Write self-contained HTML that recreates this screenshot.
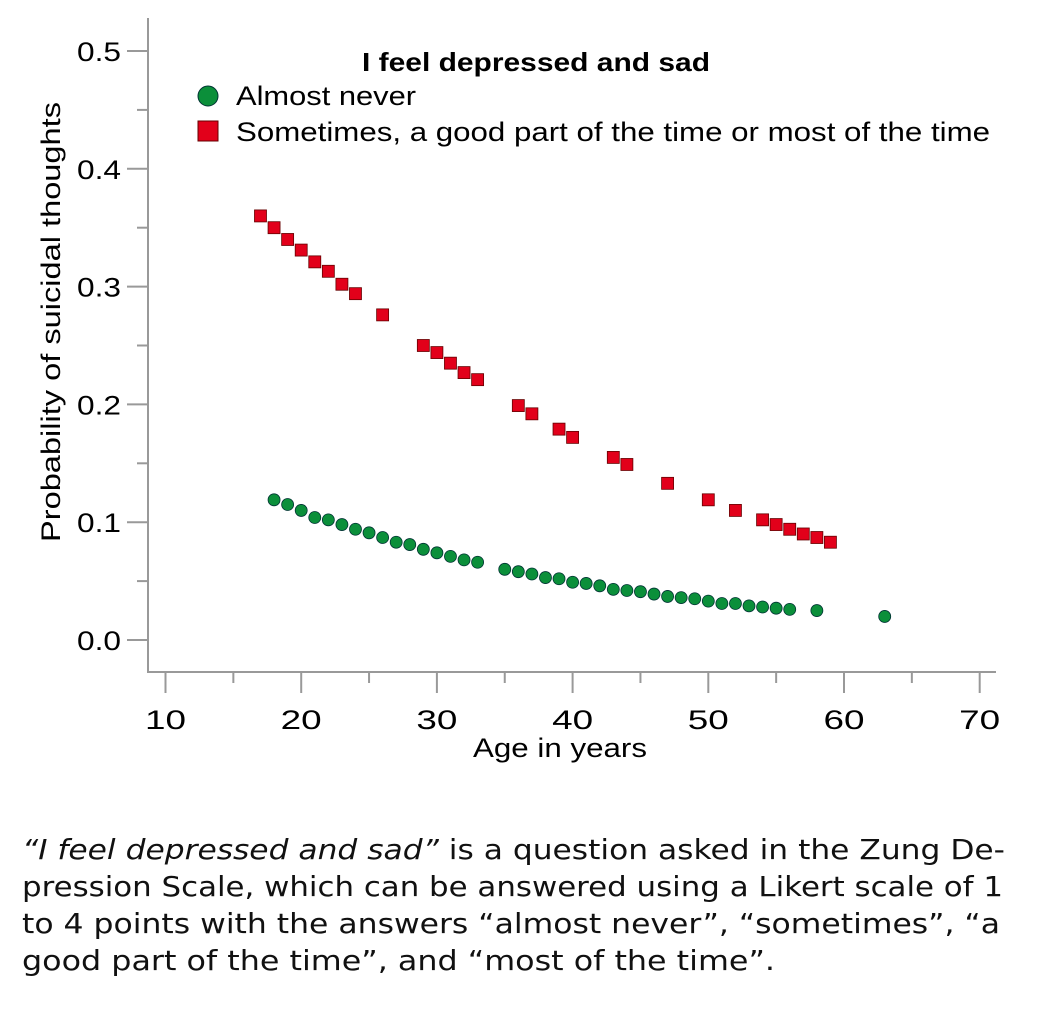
<!DOCTYPE html>
<html><head><meta charset="utf-8"><style>
body{margin:0;background:#fff;width:1046px;height:1016px;overflow:hidden}
svg text{font-family:"Liberation Sans",sans-serif}
svg text.cap{font-family:"DejaVu Sans","Liberation Sans",sans-serif;fill:#111}
</style></head><body>
<svg id="chart" width="1046" height="1016" style="position:absolute;left:0;top:0"></svg>
<script>
const xTicks=[10,20,30,40,50,60,70];
const yTicks=[0.0,0.1,0.2,0.3,0.4,0.5];
const redAges=[17,18,19,20,21,22,23,24,26,29,30,31,32,33,36,37,39,40,43,44,47,50,52,54,55,56,57,58,59];
const redVals=[0.360,0.350,0.340,0.331,0.321,0.313,0.302,0.294,0.276,0.250,0.244,0.235,0.227,0.221,0.199,0.192,0.179,0.172,0.155,0.149,0.133,0.119,0.110,0.102,0.098,0.094,0.090,0.087,0.083];
const greenAges=[18,19,20,21,22,23,24,25,26,27,28,29,30,31,32,33,35,36,37,38,39,40,41,42,43,44,45,46,47,48,49,50,51,52,53,54,55,56,58,63];
const greenVals=[0.119,0.115,0.110,0.104,0.102,0.098,0.094,0.091,0.087,0.083,0.081,0.077,0.074,0.071,0.068,0.066,0.060,0.058,0.056,0.053,0.052,0.049,0.048,0.046,0.043,0.042,0.041,0.039,0.037,0.036,0.035,0.033,0.031,0.031,0.029,0.028,0.027,0.026,0.025,0.020];
const NS="http://www.w3.org/2000/svg";
const svg=document.getElementById('chart');
const X=v=>165.5+(v-10)*13.57;
const Y=v=>640-v*1178;
function mk(t,a,p){const e=document.createElementNS(NS,t);for(const k in a)e.setAttribute(k,a[k]);(p||svg).appendChild(e);return e;}
const ax=mk('g',{});


mk('line',{x1:148,y1:18,x2:148,y2:673,stroke:'#999','stroke-width':2},ax);
mk('line',{x1:147,y1:672,x2:996,y2:672,stroke:'#999','stroke-width':2},ax);
for(let v=10;v<=70;v+=5){const maj=v%10===0;mk('line',{x1:X(v),y1:672,x2:X(v),y2:maj?693:683,stroke:'#999','stroke-width':2},ax);}
for(let i=0;i<=10;i++){const v=i*0.05;const maj=i%2===0;mk('line',{x1:maj?127:137,y1:Y(v),x2:148,y2:Y(v),stroke:'#999','stroke-width':2},ax);}
xTicks.forEach(v=>{const t=mk('text',{x:X(v),y:729,'text-anchor':'middle','font-size':27,textLength:41,lengthAdjust:'spacingAndGlyphs'});t.textContent=v;

});
yTicks.forEach(v=>{const t=mk('text',{x:121,y:Y(v)+10,'text-anchor':'end','font-size':27,textLength:44,lengthAdjust:'spacingAndGlyphs'});t.textContent=v.toFixed(1);

});
let t=mk('text',{x:560,y:757,'text-anchor':'middle','font-size':27,textLength:174,lengthAdjust:'spacingAndGlyphs'});t.textContent='Age in years';


t=mk('text',{x:0,y:0,'text-anchor':'middle','font-size':27,textLength:440,lengthAdjust:'spacingAndGlyphs',transform:'translate(60,322) rotate(-90)'});t.textContent='Probability of suicidal thoughts';


redAges.forEach((a,i)=>{const r=mk('rect',{x:X(a)-6,y:Y(redVals[i])-6,width:12,height:12,fill:'#e2001a',stroke:'#600',"stroke-width":0.8});

});
greenAges.forEach((a,i)=>{const c=mk('circle',{cx:X(a),cy:Y(greenVals[i]),r:6,fill:'#0b8f3a',stroke:'#033',"stroke-width":0.8});

});
const lg=mk('g',{});


t=mk('text',{x:362,y:71,'font-size':26,'font-weight':'bold',textLength:348,lengthAdjust:'spacingAndGlyphs'},lg);t.textContent='I feel depressed and sad';
mk('circle',{cx:208,cy:96,r:10,fill:'#0b8f3a',stroke:'#033'},lg);
t=mk('text',{x:236,y:105,'font-size':27,textLength:180,lengthAdjust:'spacingAndGlyphs'},lg);t.textContent='Almost never';
mk('rect',{x:198,y:121,width:20,height:20,fill:'#e2001a',stroke:'#600'},lg);
t=mk('text',{x:236,y:141,'font-size':27,textLength:754,lengthAdjust:'spacingAndGlyphs'},lg);t.textContent='Sometimes, a good part of the time or most of the time';
</script>
<svg width="1046" height="1016" style="position:absolute;left:0;top:0">
<text class="cap" x="22" y="859" font-size="28" textLength="983" lengthAdjust="spacingAndGlyphs"><tspan font-style="italic">“I feel depressed and sad”</tspan> is a question asked in the Zung De-</text>
<text class="cap" x="22" y="896" font-size="28" textLength="981" lengthAdjust="spacingAndGlyphs">pression Scale, which can be answered using a Likert scale of 1</text>
<text class="cap" x="22" y="933" font-size="28" textLength="978" lengthAdjust="spacingAndGlyphs">to 4 points with the answers “almost never”, “sometimes”, “a</text>
<text class="cap" x="22" y="970" font-size="28" textLength="753" lengthAdjust="spacingAndGlyphs">good part of the time”, and “most of the time”.</text>
</svg>
</body></html>
